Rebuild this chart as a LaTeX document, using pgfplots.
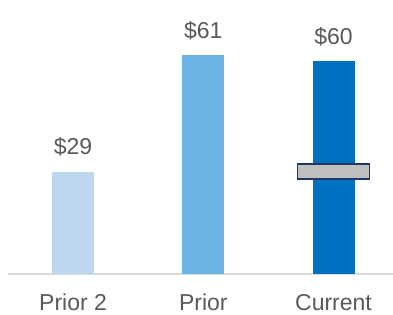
\documentclass[border=0pt]{standalone}
\usepackage{fontspec}
\setmainfont{Liberation Sans}
\usepackage{pgfplots}
\usepackage{pgfplotstable}
\pgfplotsset{compat=1.18}
\definecolor{cP2}{HTML}{BDD7EE}
\definecolor{cP}{HTML}{6CB4E5}
\definecolor{cC}{HTML}{0070C0}
\definecolor{txt}{HTML}{595959}
\definecolor{axl}{HTML}{D9D9D9}
\definecolor{navy}{HTML}{1F3864}
\definecolor{mk}{HTML}{BFBFBF}
\pgfdeclareplotmark{tgt}{%
  \pgfpathrectangle{\pgfpoint{-36bp}{-7.5bp}}{\pgfpoint{72bp}{15bp}}%
  \pgfusepathqfillstroke}
\pgfplotstableread{
x y lab
0 28.7 {\$29}
}\tpa
\pgfplotstableread{
x y lab
1 61.5 {\$61}
}\tpb
\pgfplotstableread{
x y lab
2 59.8 {\$60}
}\tpc
\pgfplotstableread{
x y
2 28.8
}\tmk
\begin{document}
\begin{tikzpicture}
\begin{axis}[
  at={(8bp,41bp)}, anchor=south west,
  scale only axis, width=385bp, height=274bp,
  xmin=-0.5, xmax=2.457, ymin=0, ymax=77,
  axis y line=none, axis x line*=bottom,
  x axis line style={draw=axl, line width=1.5bp, -},
  xtick={0,1,2}, xticklabels={Prior 2, Prior, Current},
  major tick length=0pt,
  xticklabel style={anchor=base, inner sep=0pt, yshift=-36.5bp, text=txt, font=\fontsize{23bp}{27bp}\selectfont},
  ybar, bar width=42bp, clip=false,
  nodes near coords, point meta=explicit symbolic,
  every node near coord/.append style={anchor=base, yshift=17bp, text=txt, font=\fontsize{23bp}{27bp}\selectfont},
]
\addplot[draw=none, fill=cP2, bar shift=0pt] table[x=x, y=y, meta=lab]{\tpa};
\addplot[draw=none, fill=cP, bar shift=0pt] table[x=x, y=y, meta=lab]{\tpb};
\addplot[draw=none, fill=cC, bar shift=0pt] table[x=x, y=y, meta=lab]{\tpc};
\addplot[sharp plot, only marks, nodes near coords={}, mark=tgt, mark options={draw=navy, fill=mk, line width=1.6bp}] table[x=x, y=y]{\tmk};
\end{axis}
\pgfresetboundingbox
\path (0,0) rectangle (393bp,315bp);
\end{tikzpicture}
\end{document}
